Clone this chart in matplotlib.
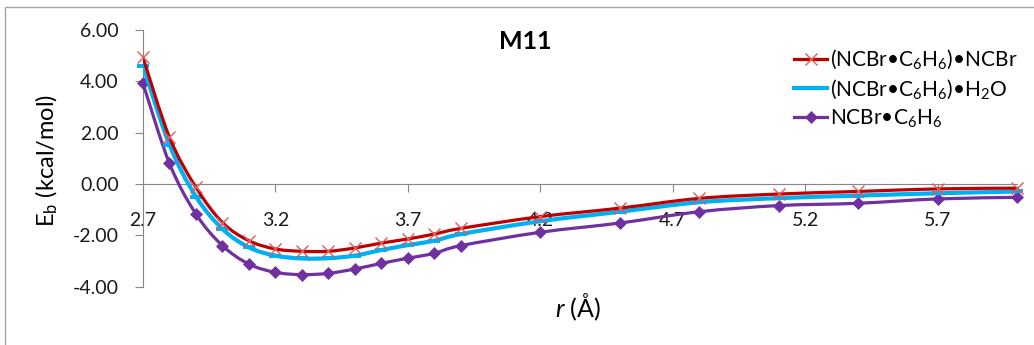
import numpy as np
import matplotlib
matplotlib.use('Agg')
import matplotlib.pyplot as plt
from matplotlib.path import Path
from matplotlib.patches import PathPatch, Rectangle
from matplotlib.lines import Line2D

plt.rcParams['font.family'] = ['Lato', 'DejaVu Sans']
plt.rcParams['mathtext.fontset'] = 'custom'
plt.rcParams['mathtext.rm'] = 'Lato'
plt.rcParams['mathtext.it'] = 'Lato:italic'
plt.rcParams['axes.unicode_minus'] = False

# distance r (Angstrom) and binding energies (kcal/mol), M11 level
r = [2.7, 2.8, 2.9, 3.0, 3.1, 3.2, 3.3, 3.4, 3.5, 3.6, 3.7, 3.8, 3.9,
     4.2, 4.5, 4.8, 5.1, 5.4, 5.7, 6.0]
eb_ncbr = [4.93, 1.82, -0.13, -1.50, -2.21, -2.53, -2.62, -2.62, -2.49, -2.30,
           -2.14, -1.95, -1.73, -1.27, -0.94, -0.56, -0.39, -0.29, -0.19, -0.16]
eb_h2o = [4.61, 1.53, -0.49, -1.75, -2.47, -2.79, -2.90, -2.89, -2.79, -2.57,
          -2.38, -2.21, -1.95, -1.45, -1.08, -0.71, -0.55, -0.45, -0.36, -0.29]
eb_dimer = [3.92, 0.80, -1.17, -2.40, -3.12, -3.44, -3.53, -3.48, -3.31, -3.09,
            -2.89, -2.70, -2.40, -1.88, -1.52, -1.08, -0.84, -0.75, -0.58, -0.52]

labels = ['(NCBr•C$_6$H$_6$)•NCBr', '(NCBr•C$_6$H$_6$)•H$_2$O', 'NCBr•C$_6$H$_6$']
xtick_vals = [2.7, 3.2, 3.7, 4.2, 4.7, 5.2, 5.7]
ytick_vals = [-4, -2, 0, 2, 4, 6]


def smooth_path(x, y):
    # Catmull-Rom style bezier through the points (like a spreadsheet "smoothed line")
    pts = np.column_stack([x, y])
    ext = np.vstack([pts[0], pts, pts[-1]])
    verts = [pts[0]]
    codes = [Path.MOVETO]
    for i in range(len(pts) - 1):
        p0, p1, p2, p3 = ext[i], ext[i + 1], ext[i + 2], ext[i + 3]
        verts += [p1 + (p2 - p0) / 6, p2 - (p3 - p1) / 6, p2]
        codes += [Path.CURVE4] * 3
    return Path(verts, codes)


fig = plt.figure(figsize=(10.34, 3.45), dpi=100)
ax = fig.add_axes([143 / 1034, 1 - 286.7 / 345, 874 / 1034, 256.7 / 345])

styles = [
    dict(y=eb_ncbr, color='#C00000', lw=2.3, marker='x', mc='#E05A5A', ms=8.5, mew=1.0),
    dict(y=eb_h2o, color='#00B0F0', lw=3.0, marker='_', mc='#00B0F0', ms=9, mew=2.8),
    dict(y=eb_dimer, color='#7030A0', lw=2.3, marker='D', mc='#7030A0', ms=6.5, mew=0.5),
]
handles = []
for z, (s, lab) in enumerate(zip(styles, labels)):
    zo = 5 - z
    ax.add_patch(PathPatch(smooth_path(r, s['y']), fill=False, edgecolor=s['color'],
                           lw=s['lw'], zorder=zo, capstyle='round'))
    ax.plot(r, s['y'], linestyle='none', marker=s['marker'], color=s['mc'],
            markersize=s['ms'], markeredgewidth=s['mew'], zorder=zo + 0.5, clip_on=False)
    handles.append(Line2D([], [], color=s['color'], lw=s['lw'], marker=s['marker'],
                          markerfacecolor=s['mc'], markeredgecolor=s['mc'],
                          markersize=s['ms'], markeredgewidth=s['mew'], label=lab))

ax.set_xlim(2.7, 6.0)
ax.set_ylim(-4, 6)

for side in ['top', 'right']:
    ax.spines[side].set_visible(False)
ax.spines['bottom'].set_position(('data', 0))
ax.spines['bottom'].set_color('#868686')
ax.spines['left'].set_color('#868686')

ax.set_xticks(xtick_vals)
ax.set_xticklabels([f'{v:.1f}' for v in xtick_vals])
ax.set_yticks(ytick_vals)
ax.set_yticklabels([f'{v:.2f}' for v in ytick_vals])
ax.tick_params(axis='x', direction='out', length=5.5, color='#868686', pad=15,
               labelsize=14, labelcolor='#1a1a1a')
ax.tick_params(axis='y', direction='out', length=5.5, color='#868686', pad=12,
               labelsize=14, labelcolor='#1a1a1a')

ax.text(0.437, 1.0, 'M11', transform=ax.transAxes, fontsize=18, fontweight='bold',
        ha='center', va='top')
fig.text(578 / 1034, 1 - 307 / 345, r'$\mathit{r}$ (Å)', fontsize=18,
         ha='center', va='center')
fig.text(47 / 1034, 1 - 160 / 345, r'E$_\mathrm{b}$ (kcal/mol)', fontsize=17,
         rotation=90, ha='center', va='center')

fig.legend(handles=handles, loc='center left',
           bbox_to_anchor=(794 / 1034, 1 - 88.5 / 345), frameon=False,
           fontsize=15, handlelength=1.6, handletextpad=0.15,
           labelspacing=0.3, borderpad=0, borderaxespad=0)

# light outer chart border (left and top edges visible)
fig.add_artist(Rectangle((5 / 1034, -0.1), 1.2, 0.1 + 338 / 345,
                         transform=fig.transFigure, fill=False,
                         edgecolor='#A6A6A6', lw=1.0))

fig.savefig('out.png', dpi=100)
